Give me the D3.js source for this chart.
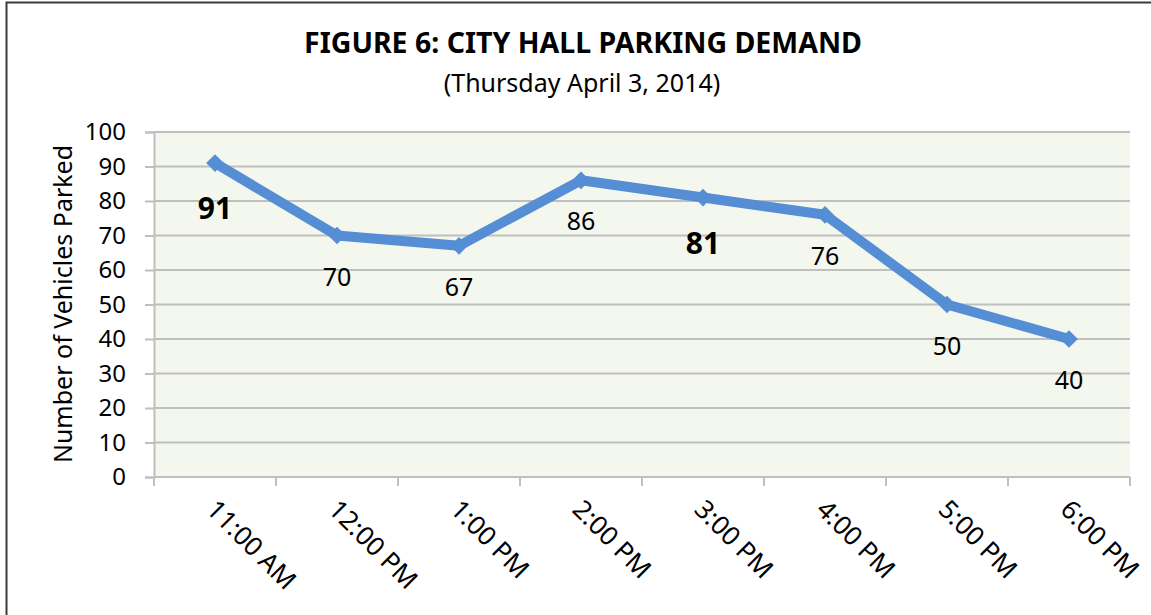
<!DOCTYPE html>
<html>
<head>
<meta charset="utf-8">
<script src="https://cdn.jsdelivr.net/npm/d3@7"></script>
<style>
  html, body { margin: 0; padding: 0; background: #ffffff; }
  svg { display: block; }
  text { font-family: "Noto Sans", "Open Sans", sans-serif; fill: #000; }
</style>
</head>
<body>
<svg id="chart" width="1151" height="615"></svg>
<script>
// Hourly counts of parked vehicles at City Hall
const times = ["11:00 AM", "12:00 PM", "1:00 PM", "2:00 PM", "3:00 PM", "4:00 PM", "5:00 PM", "6:00 PM"];
const vehicles = [91, 70, 67, 86, 81, 76, 50, 40];
const yTicks = [0, 10, 20, 30, 40, 50, 60, 70, 80, 90, 100];

const titleText = "FIGURE 6: CITY HALL PARKING DEMAND";
const subtitleText = "(Thursday April 3, 2014)";
const yAxisTitle = "Number of Vehicles Parked";

// Peak readings get a heavier label
const emphasized = new Set(["11:00 AM", "3:00 PM"]);

const svg = d3.select("#chart");
const W = 1151, H = 615;
const plot = { left: 154, right: 1130, top: 132, bottom: 477 };

// outer frame
svg.append("rect")
  .attr("x", 6.5).attr("y", 2.5)
  .attr("width", W + 20).attr("height", H + 20)
  .attr("fill", "none").attr("stroke", "#3a3a3a").attr("stroke-width", 2);

const x = d3.scaleBand().domain(times).range([plot.left, plot.right]).padding(0);
const y = d3.scaleLinear().domain([0, 100]).range([plot.bottom, plot.top]);

// plot background
svg.append("rect")
  .attr("x", plot.left).attr("y", plot.top)
  .attr("width", plot.right - plot.left).attr("height", plot.bottom - plot.top)
  .attr("fill", "#f4f7ee");

// horizontal gridlines
svg.append("g")
  .selectAll("line")
  .data(yTicks.filter(d => d > 0))
  .join("line")
  .attr("x1", plot.left).attr("x2", plot.right)
  .attr("y1", d => y(d)).attr("y2", d => y(d))
  .attr("stroke", "#bfbfbf").attr("stroke-width", 2);

// y axis
const yAxis = svg.append("g")
  .attr("transform", `translate(${plot.left},0)`)
  .call(d3.axisLeft(y).tickValues(yTicks).tickSize(9).tickPadding(19).tickFormat(d3.format("d")));
yAxis.select(".domain").attr("stroke", "#bfbfbf").attr("stroke-width", 2);
yAxis.selectAll(".tick line").attr("stroke", "#bfbfbf").attr("stroke-width", 2);
yAxis.selectAll(".tick text")
  .attr("font-size", 24).attr("fill", "#000")
  .attr("font-family", "Noto Sans, Open Sans, sans-serif");

// x axis with boundary ticks between categories
const xAxisG = svg.append("g").attr("transform", `translate(0,${plot.bottom})`);
xAxisG.append("line")
  .attr("x1", plot.left).attr("x2", plot.right)
  .attr("stroke", "#bfbfbf").attr("stroke-width", 2);
const boundaries = times.map(t => x(t)).concat([x(times[times.length - 1]) + x.bandwidth()]);
xAxisG.selectAll("line.bound")
  .data(boundaries)
  .join("line")
  .attr("class", "bound")
  .attr("x1", d => d).attr("x2", d => d)
  .attr("y1", 0).attr("y2", 9)
  .attr("stroke", "#bfbfbf").attr("stroke-width", 2);
xAxisG.selectAll("text.cat")
  .data(times)
  .join("text")
  .attr("class", "cat")
  .attr("font-size", 26)
  .attr("transform", d => `translate(${x(d) + x.bandwidth() / 2 - 10},${34}) rotate(45)`)
  .attr("text-anchor", "start")
  .text(d => d);

// series line
const line = d3.line()
  .x(d => x(d.t) + x.bandwidth() / 2)
  .y(d => y(d.v));
const pts = times.map((t, i) => ({ t, v: vehicles[i] }));

svg.append("path")
  .datum(pts)
  .attr("d", line)
  .attr("fill", "none")
  .attr("stroke", "#558ed5")
  .attr("stroke-width", 10)
  .attr("stroke-linejoin", "round");

// diamond markers
svg.append("g")
  .selectAll("path")
  .data(pts)
  .join("path")
  .attr("d", d3.symbol().type(d3.symbolDiamond2).size(200))
  .attr("transform", d => `translate(${x(d.t) + x.bandwidth() / 2},${y(d.v)})`)
  .attr("fill", "#558ed5");

// value labels under each point
svg.append("g")
  .selectAll("text")
  .data(pts)
  .join("text")
  .attr("x", d => x(d.t) + x.bandwidth() / 2)
  .attr("y", d => y(d.v) + (emphasized.has(d.t) ? 56 : 50))
  .attr("text-anchor", "middle")
  .attr("font-size", d => emphasized.has(d.t) ? 30 : 25)
  .attr("font-weight", d => emphasized.has(d.t) ? "bold" : "normal")
  .text(d => d.v);

// titles
svg.append("text")
  .attr("x", 583).attr("y", 53)
  .attr("text-anchor", "middle")
  .attr("font-size", 28.5).attr("font-weight", "bold")
  .text(titleText);
svg.append("text")
  .attr("x", 582).attr("y", 92)
  .attr("text-anchor", "middle")
  .attr("font-size", 25)
  .text(subtitleText);

svg.append("text")
  .attr("transform", `translate(72,304) rotate(-90)`)
  .attr("text-anchor", "middle")
  .attr("font-size", 25)
  .text(yAxisTitle);
</script>
</body>
</html>
